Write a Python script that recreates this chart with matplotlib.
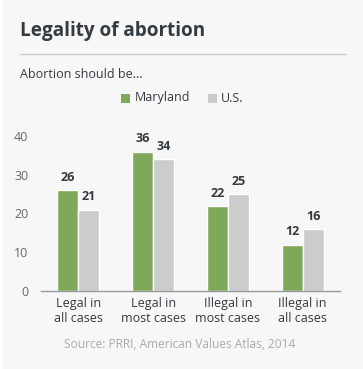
import numpy as np
import matplotlib.pyplot as plt
from matplotlib.patches import FancyBboxPatch
from matplotlib.lines import Line2D

plt.rcParams['font.family'] = ['Open Sans', 'DejaVu Sans']

# data
categories = ['Legal in\nall cases', 'Legal in\nmost cases', 'Illegal in\nmost cases', 'Illegal in\nall cases']
maryland = [26, 36, 22, 12]
us = [21, 34, 25, 16]
series_names = ['Maryland', 'U.S.']
yticks = [0, 10, 20, 30, 40]

green = '#80a85a'
gray = '#cccccc'
dark = '#333a40'

W, H = 363, 369
fig = plt.figure(figsize=(W / 100, H / 100), dpi=100, facecolor='white')

# rounded background card
bg = FancyBboxPatch((2 / W, -0.05), 1.2, 1.2, boxstyle='round,pad=0,rounding_size=0.03',
                    transform=fig.transFigure, facecolor='#f7f7f7', edgecolor='none', zorder=-10)
fig.patches.append(bg)

def fx(px):
    return px / W

def fy(py):
    return 1 - py / H

fig.text(fx(20), fy(31), 'Legality of abortion', fontsize=13.6, fontweight='bold',
         color=dark, va='center', ha='left')
fig.add_artist(Line2D([fx(20), fx(345)], [fy(54), fy(54)], color='#cccccc', lw=1))
fig.text(fx(20), fy(74), 'Abortion should be...', fontsize=9, color=dark, va='center', ha='left')

# legend
fig.patches.append(plt.Rectangle((fx(121), fy(103)), 9 / W, 9 / H, transform=fig.transFigure,
                                 facecolor=green, edgecolor='none'))
fig.text(fx(135), fy(98), series_names[0], fontsize=9, color=dark, va='center', ha='left')
fig.patches.append(plt.Rectangle((fx(208), fy(103)), 9 / W, 9 / H, transform=fig.transFigure,
                                 facecolor=gray, edgecolor='none'))
fig.text(fx(221), fy(98), series_names[1], fontsize=9, color=dark, va='center', ha='left')

ax = fig.add_axes([fx(41), fy(291), fx(340) - fx(41), fy(136) - fy(291)])
ax.set_facecolor('none')
x = np.arange(len(categories))
w = 0.28
b1 = ax.bar(x - w / 2, maryland, w, color=green, edgecolor='white', linewidth=1)
b2 = ax.bar(x + w / 2, us, w, color=gray, edgecolor='white', linewidth=1)
for bars in (b1, b2):
    for r in bars:
        ax.text(r.get_x() + r.get_width() / 2, r.get_height() + 1.6, f'{int(r.get_height())}',
                ha='center', va='bottom', fontsize=9, fontweight='bold', color=dark, clip_on=False)

ax.set_xlim(-0.5, 3.5)
ax.set_ylim(0, 40)
ax.set_yticks(yticks)
ax.set_xticks(x)
ax.set_xticklabels(categories, fontsize=9, color=dark, linespacing=1.2)
ax.tick_params(axis='y', length=0, labelsize=9, labelcolor='#666666', pad=9)
ax.tick_params(axis='x', length=0, pad=4)
for s in ['top', 'right', 'left']:
    ax.spines[s].set_visible(False)
ax.spines['bottom'].set_color('#999999')
ax.spines['bottom'].set_linewidth(1)

fig.text(fx(180), fy(344), 'Source: PRRI, American Values Atlas, 2014', fontsize=8.6,
         color='#aaaaaa', ha='center', va='center')

fig.savefig('out.png', dpi=100, facecolor='white')
